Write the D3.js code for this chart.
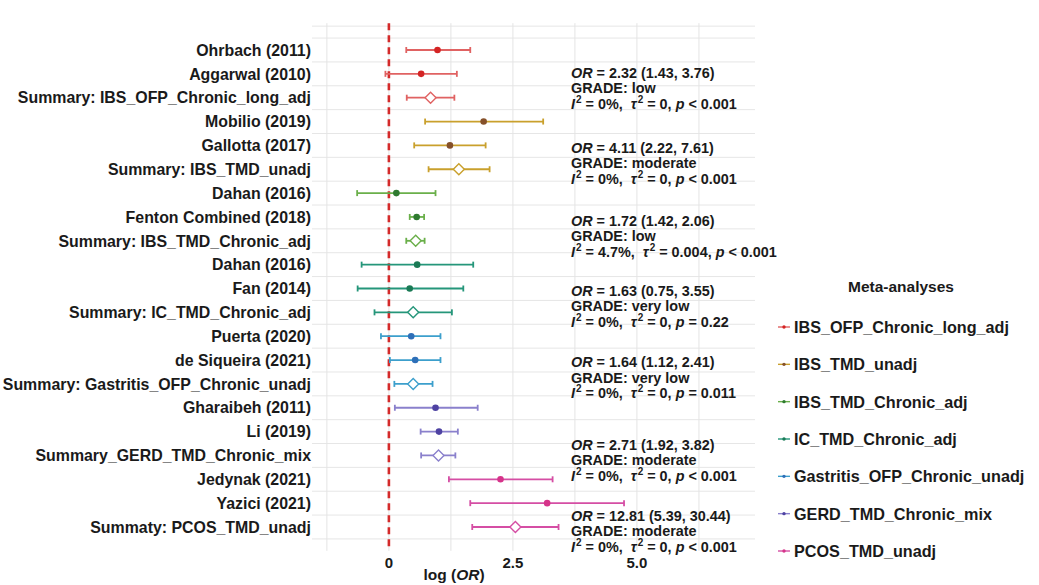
<!DOCTYPE html>
<html>
<head>
<meta charset="utf-8">
<script src="https://cdn.jsdelivr.net/npm/d3@7"></script>
<style>
  body { margin: 0; background: #fff; }
  svg { display: block; font-family: "Liberation Sans", Arial, sans-serif; }
</style>
</head>
<body>
<svg id="forest" width="1039" height="585"></svg>
<script>
// rows, top to bottom
const ROW_LABELS = [
  "Ohrbach (2011)", "Aggarwal (2010)", "Summary: IBS_OFP_Chronic_long_adj",
  "Mobilio (2019)", "Gallotta (2017)", "Summary: IBS_TMD_unadj",
  "Dahan (2016)", "Fenton Combined (2018)", "Summary: IBS_TMD_Chronic_adj",
  "Dahan (2016)", "Fan (2014)", "Summary: IC_TMD_Chronic_adj",
  "Puerta (2020)", "de Siqueira (2021)", "Summary: Gastritis_OFP_Chronic_unadj",
  "Gharaibeh (2011)", "Li (2019)", "Summary_GERD_TMD_Chronic_mix",
  "Jedynak (2021)", "Yazici (2021)", "Summaty: PCOS_TMD_unadj"
];
const ROW_GROUP   = [0,0,0, 1,1,1, 2,2,2, 3,3,3, 4,4,4, 5,5,5, 6,6,6];
const ROW_SUMMARY = [0,0,1, 0,0,1, 0,0,1, 0,0,1, 0,0,1, 0,0,1, 0,0,1];

// log(OR) and 95% CI
const LOG_OR = [0.98, 0.65, 0.84, 1.91, 1.23, 1.41, 0.15, 0.56, 0.54, 0.57, 0.42,
                0.49, 0.45, 0.53, 0.49, 0.94, 1.01, 1.00, 2.25, 3.19, 2.55];
const CI_LOW = [0.35, -0.07, 0.36, 0.73, 0.51, 0.80, -0.64, 0.42, 0.35, -0.55, -0.63,
                -0.29, -0.16, 0.02, 0.11, 0.12, 0.64, 0.65, 1.21, 1.64, 1.68];
const CI_HIGH = [1.64, 1.37, 1.32, 3.11, 1.95, 2.03, 0.94, 0.71, 0.72, 1.70, 1.50,
                 1.27, 1.04, 1.04, 0.88, 1.79, 1.39, 1.34, 3.30, 4.74, 3.42];

// meta-analyses
const GROUPS = [
  "IBS_OFP_Chronic_long_adj", "IBS_TMD_unadj", "IBS_TMD_Chronic_adj",
  "IC_TMD_Chronic_adj", "Gastritis_OFP_Chronic_unadj", "GERD_TMD_Chronic_mix", "PCOS_TMD_unadj"
];
const LINE_COLORS  = ["#e06262", "#c9a02c", "#6aaf4a", "#25967a", "#3c9fcc", "#8a80cc", "#d54ea4"];
const POINT_COLORS = ["#d42424", "#85502a", "#2f7a30", "#1a7a55", "#2e6fb8", "#4e42a2", "#d6338a"];

// pooled results text
const ANNOT_OR    = ["2.32 (1.43, 3.76)", "4.11 (2.22, 7.61)", "1.72 (1.42, 2.06)", "1.63 (0.75, 3.55)",
                     "1.64 (1.12, 2.41)", "2.71 (1.92, 3.82)", "12.81 (5.39, 30.44)"];
const ANNOT_GRADE = ["low", "moderate", "low", "very low", "very low", "moderate", "moderate"];
const ANNOT_I2    = ["0%", "0%", "4.7%", "0%", "0%", "0%", "0%"];
const ANNOT_TAU2  = ["0", "0", "0.004", "0", "0", "0", "0"];
const ANNOT_P     = ["< 0.001", "< 0.001", "< 0.001", "= 0.22", "= 0.011", "< 0.001", "< 0.001"];
const ANNOT_ROW   = [1.96, 5.1, 8.15, 11.1, 14.08, 17.55, 20.52]; // row where first line sits

const X_GRID = [-1.25, 0, 1.25, 2.5, 3.75, 5, 6.25];
const X_TICKS = [0, 2.5, 5];
const X_TICK_LABELS = ["0", "2.5", "5.0"];

const TEXT = "#1a1a1a";

const svg = d3.select("#forest");
const panel = { left: 312, right: 755 };

const x = d3.scaleLinear().domain([-1.55, 7.38]).range([panel.left, panel.right]);
// row 1 at top; row 0 and 22 are the panel edges
const y = d3.scaleLinear().domain([0, 22]).range([26.15, 550.85]);

const rows = ROW_LABELS.map((label, i) => ({
  label, row: i + 1, group: ROW_GROUP[i], summary: ROW_SUMMARY[i] === 1,
  est: LOG_OR[i], lo: CI_LOW[i], hi: CI_HIGH[i]
}));

// ---------- grid ----------
const grid = svg.append("g").attr("class", "grid");
const hLines = [0].concat(d3.range(0.5, 22, 1));
grid.selectAll("line.h").data(hLines).join("line")
  .attr("class", "h")
  .attr("x1", panel.left).attr("x2", panel.right)
  .attr("y1", d => y(d)).attr("y2", d => y(d))
  .attr("stroke", "#e6e6e6").attr("stroke-width", 1);
grid.selectAll("line.v").data(X_GRID).join("line")
  .attr("class", "v")
  .attr("x1", d => x(d)).attr("x2", d => x(d))
  .attr("y1", y(0) - 3).attr("y2", y(22))
  .attr("stroke", "#e4e4e4").attr("stroke-width", 1);

// null line
svg.append("line")
  .attr("x1", x(0)).attr("x2", x(0))
  .attr("y1", y(0) - 3).attr("y2", y(22))
  .attr("stroke", "#d42a2a").attr("stroke-width", 2.6)
  .attr("stroke-dasharray", "7,5");

// ---------- error bars ----------
const marks = svg.append("g").attr("class", "marks");
const capH = 3;
rows.forEach(d => {
  const g = marks.append("g");
  const c = LINE_COLORS[d.group];
  const yy = y(d.row);
  g.append("line")
    .attr("x1", x(d.lo)).attr("x2", x(d.hi))
    .attr("y1", yy).attr("y2", yy)
    .attr("stroke", c).attr("stroke-width", 1.8);
  [d.lo, d.hi].forEach(v => {
    g.append("line")
      .attr("x1", x(v)).attr("x2", x(v))
      .attr("y1", yy - capH).attr("y2", yy + capH)
      .attr("stroke", c).attr("stroke-width", 1.8);
  });
  if (d.summary) {
    const s = 5.5;
    g.append("path")
      .attr("d", `M${x(d.est)},${yy - s}L${x(d.est) + s},${yy}L${x(d.est)},${yy + s}L${x(d.est) - s},${yy}Z`)
      .attr("fill", "#fff")
      .attr("stroke", c).attr("stroke-width", 1.4);
  } else {
    g.append("circle")
      .attr("cx", x(d.est)).attr("cy", yy).attr("r", 3.3)
      .attr("fill", POINT_COLORS[d.group]);
  }
});

// ---------- row labels ----------
svg.append("g").selectAll("text").data(rows).join("text")
  .attr("x", panel.left - 1)
  .attr("y", d => y(d.row))
  .attr("dy", "0.36em")
  .attr("text-anchor", "end")
  .attr("font-size", 15.9)
  .attr("font-weight", "bold")
  .attr("fill", TEXT)
  .text(d => d.label);

// ---------- x axis ----------
svg.append("g").selectAll("text").data(X_TICKS).join("text")
  .attr("x", d => x(d))
  .attr("y", 568)
  .attr("text-anchor", "middle")
  .attr("font-size", 15)
  .attr("font-weight", "bold")
  .attr("fill", TEXT)
  .text((d, i) => X_TICK_LABELS[i]);

const xTitle = svg.append("text")
  .attr("x", 454).attr("y", 580)
  .attr("text-anchor", "middle")
  .attr("font-size", 15.5)
  .attr("font-weight", "bold")
  .attr("fill", TEXT);
xTitle.append("tspan").text("log (");
xTitle.append("tspan").attr("font-style", "italic").text("OR");
xTitle.append("tspan").text(")");

// ---------- pooled annotations ----------
const annot = svg.append("g").attr("font-size", 14.4).attr("font-weight", "bold").attr("fill", TEXT);
const annX = 571;
const lineGap = 15.4;
GROUPS.forEach((grp, i) => {
  const y0 = y(ANNOT_ROW[i]);
  const t1 = annot.append("text").attr("x", annX).attr("y", y0).attr("dy", "0.36em");
  t1.append("tspan").attr("font-style", "italic").text("OR");
  t1.append("tspan").text(" = " + ANNOT_OR[i]);

  annot.append("text").attr("x", annX).attr("y", y0 + lineGap).attr("dy", "0.36em")
    .text("GRADE: " + ANNOT_GRADE[i]);

  const t3 = annot.append("text").attr("x", annX).attr("y", y0 + 2 * lineGap).attr("dy", "0.36em")
    .attr("xml:space", "preserve");
  t3.append("tspan").attr("font-style", "italic").text("I");
  t3.append("tspan").attr("font-size", 10).attr("dy", -6).attr("dx", 1).text("2");
  t3.append("tspan").attr("dy", 6).text(" = " + ANNOT_I2[i] + ",  ");
  t3.append("tspan").attr("font-style", "italic").text("τ");
  t3.append("tspan").attr("font-size", 10).attr("dy", -6).attr("dx", 1).text("2");
  t3.append("tspan").attr("dy", 6).text(" = " + ANNOT_TAU2[i] + ", ");
  t3.append("tspan").attr("font-style", "italic").text("p");
  t3.append("tspan").text(" " + ANNOT_P[i]);
});

// ---------- legend ----------
const legend = svg.append("g").attr("font-weight", "bold").attr("fill", TEXT);
legend.append("text")
  .attr("x", 901).attr("y", 286).attr("dy", "0.36em")
  .attr("text-anchor", "middle")
  .attr("font-size", 15.5)
  .text("Meta-analyses");

const legY = d3.scalePoint().domain(GROUPS).range([327, 551]);
const item = legend.selectAll("g.item").data(GROUPS).join("g")
  .attr("class", "item")
  .attr("transform", d => `translate(0,${legY(d)})`);
item.append("line")
  .attr("x1", 778).attr("x2", 790)
  .attr("stroke", (d, i) => LINE_COLORS[i]).attr("stroke-width", 1.4);
item.append("circle")
  .attr("cx", 784).attr("r", 1.7)
  .attr("fill", (d, i) => POINT_COLORS[i]);
item.append("text")
  .attr("x", 794).attr("dy", "0.36em")
  .attr("font-size", 16.2)
  .text(d => d);
</script>
</body>
</html>
